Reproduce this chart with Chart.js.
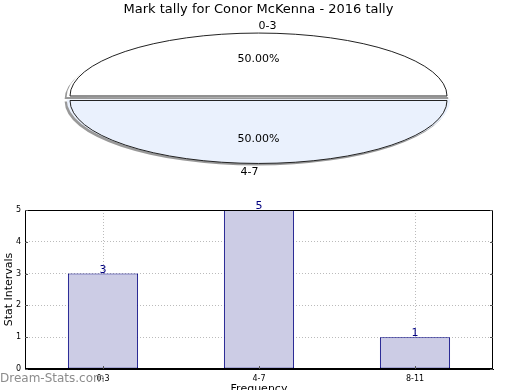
<!DOCTYPE html>
<html lang="en">
<head>
  <meta charset="UTF-8">
  <title>Mark tally for Conor McKenna - 2016 tally</title>
  <script src="https://cdn.jsdelivr.net/npm/chart.js"></script>
  <style>
    body {
      margin: 0;
      padding: 0;
      width: 520px;
      height: 390px;
      overflow: hidden;
      background: #fff;
      position: relative;
      font-family: "DejaVu Sans", sans-serif;
    }
    .pie-box { position: absolute; left: 0; top: 0; }
    .bar-box { position: absolute; left: 0; top: 190px; }
    .watermark {
      position: absolute;
      left: 0;
      top: 371px;
      font-size: 12px;
      color: #8c8c8c;
      white-space: nowrap;
    }
  </style>
</head>
<body>
  <div class="pie-box"><canvas id="pieChart" width="520" height="190"></canvas></div>
  <div class="bar-box"><canvas id="barChart" width="520" height="210"></canvas></div>
  <div class="watermark">Dream-Stats.com</div>

  <script>
    const chartTitle = 'Mark tally for Conor McKenna - 2016 tally';
    const pieLabels = ['0-3', '4-7'];
    const pieValues = [50, 50];
    const barLabels = ['0-3', '4-7', '8-11'];
    const barValues = [3, 5, 1];
    const yMax = 5;

    const FONT = '"DejaVu Sans", sans-serif';
    const SQUASH = 0.334;   // flatten the pie into an oval

    // squash the arcs vertically, then outline them and put the labels on
    const ovalPie = {
      id: 'ovalPie',
      beforeDatasetsDraw(chart) {
        const arc = chart.getDatasetMeta(0).data[0];
        const ctx = chart.ctx;
        ctx.save();
        ctx.translate(arc.x, arc.y);
        ctx.scale(1, SQUASH);
        ctx.translate(-arc.x, -arc.y);
        ctx.shadowColor = 'rgba(0,0,0,0.4)';
        ctx.shadowOffsetX = -2;
        ctx.shadowOffsetY = 2;
      },
      afterDatasetsDraw(chart) {
        const ctx = chart.ctx;
        ctx.restore();
        const total = pieValues.reduce((a, b) => a + b, 0);
        chart.getDatasetMeta(0).data.forEach((arc, i) => {
          const mid = (arc.startAngle + arc.endAngle) / 2;
          const off = (arc.options.offset || 0) / 2;
          const cx = arc.x + Math.cos(mid) * off;
          const cy = arc.y + Math.sin(mid) * off * SQUASH;
          const r = arc.outerRadius;

          ctx.save();
          ctx.beginPath();
          ctx.ellipse(cx, cy, r, r * SQUASH, 0, arc.startAngle, arc.endAngle);
          ctx.closePath();
          ctx.lineWidth = 1;
          ctx.strokeStyle = '#222';
          ctx.stroke();

          ctx.fillStyle = '#000';
          ctx.font = '11px ' + FONT;
          ctx.textBaseline = 'middle';
          ctx.textAlign = 'center';
          const pct = (pieValues[i] / total * 100).toFixed(2) + '%';
          ctx.fillText(pct, cx + Math.cos(mid) * r * 0.6, cy + Math.sin(mid) * r * 0.6 * SQUASH + 0.5);

          // top label hangs right of the centre line, bottom one left of it
          ctx.textAlign = Math.sin(mid) < 0 ? 'left' : 'right';
          ctx.fillText(pieLabels[i], cx + Math.cos(mid) * r * 1.12, cy + Math.sin(mid) * r * 1.12 * SQUASH + 1);
          ctx.restore();
        });
      }
    };

    new Chart(document.getElementById('pieChart'), {
      type: 'pie',
      data: {
        labels: pieLabels,
        datasets: [{
          data: pieValues,
          backgroundColor: ['#ffffff', '#eaf1fd'],
          borderWidth: 0,
          offset: 13.4
        }]
      },
      options: {
        responsive: false,
        animation: false,
        rotation: -90,
        radius: 188.5,
        layout: { padding: { left: 0, right: 3, top: 0, bottom: 11.1 } },
        events: [],
        plugins: {
          legend: { display: false },
          tooltip: { enabled: false },
          title: {
            display: true,
            text: chartTitle,
            color: '#000',
            font: { family: FONT, size: 13, weight: 'normal' },
            padding: { top: 2, bottom: 0 }
          }
        }
      },
      plugins: [ovalPie]
    });

    // black frame round the plot plus the little inward ticks
    const frame = {
      id: 'frame',
      afterDraw(chart) {
        const { ctx, chartArea: a, scales } = chart;
        ctx.save();
        ctx.strokeStyle = '#000';
        ctx.lineWidth = 1;
        ctx.strokeRect(a.left + 0.5, a.top + 0.5, a.right - a.left - 1, a.bottom - a.top - 1);
        ctx.strokeStyle = '#555';
        ctx.beginPath();
        scales.y.ticks.forEach(t => {
          const y = Math.round(scales.y.getPixelForValue(t.value)) + 0.5;
          ctx.moveTo(a.left, y); ctx.lineTo(a.left + 3, y);
          ctx.moveTo(a.right, y); ctx.lineTo(a.right - 3, y);
        });
        barLabels.forEach((l, i) => {
          const x = Math.round(scales.x.getPixelForValue(i)) + 0.5;
          ctx.moveTo(x, a.bottom); ctx.lineTo(x, a.bottom - 3);
        });
        ctx.stroke();
        ctx.restore();
      }
    };

    const barValuesOnTop = {
      id: 'barValuesOnTop',
      afterDatasetsDraw(chart) {
        const ctx = chart.ctx;
        ctx.save();
        ctx.fillStyle = '#000080';
        ctx.font = '11px ' + FONT;
        ctx.textAlign = 'center';
        ctx.textBaseline = 'alphabetic';
        chart.getDatasetMeta(0).data.forEach((bar, i) => {
          ctx.fillText(String(barValues[i]), bar.x, bar.y - 1);
        });
        ctx.restore();
      }
    };

    new Chart(document.getElementById('barChart'), {
      type: 'bar',
      data: {
        labels: barLabels,
        datasets: [{
          data: barValues,
          backgroundColor: '#ccccE5',
          borderColor: '#000080',
          borderWidth: 1,
          borderSkipped: false,
          barPercentage: 0.45,
          categoryPercentage: 1
        }]
      },
      options: {
        responsive: false,
        animation: false,
        events: [],
        layout: { padding: { left: 0, right: 27, top: 20, bottom: 0 } },
        plugins: {
          legend: { display: false },
          tooltip: { enabled: false }
        },
        scales: {
          x: {
            grid: { offset: false, color: '#bbb', drawTicks: false },
            border: { color: '#000', dash: [1, 2] },
            ticks: { color: '#000', font: { family: FONT, size: 8 }, padding: 5, maxRotation: 0 },
            title: {
              display: true,
              text: 'Frequency',
              color: '#000',
              font: { family: FONT, size: 11 },
              padding: { top: 0, bottom: 4.4 }
            },
            afterFit: s => { s.height = 31; }
          },
          y: {
            min: 0,
            max: yMax,
            grid: { color: '#bbb', drawTicks: false },
            border: { color: '#000', dash: [1, 2] },
            ticks: { stepSize: 1, color: '#000', font: { family: FONT, size: 8 }, padding: 4 },
            title: {
              display: true,
              text: 'Stat Intervals',
              color: '#000',
              font: { family: FONT, size: 11 },
              padding: { top: 2.4, bottom: 0 }
            },
            afterFit: s => { s.width = 25; }
          }
        }
      },
      plugins: [frame, barValuesOnTop]
    });
  </script>
</body>
</html>
